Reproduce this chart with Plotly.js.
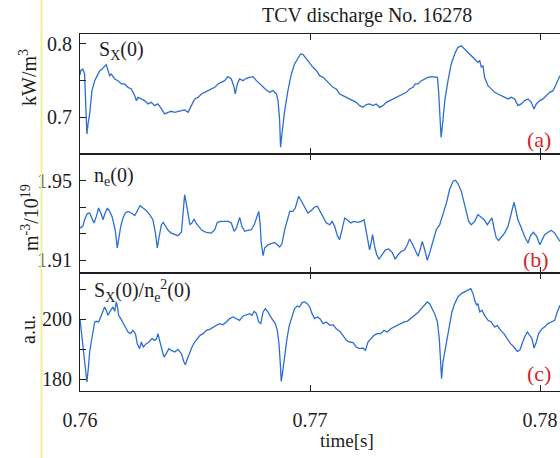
<!DOCTYPE html>
<html>
<head>
<meta charset="utf-8">
<script src="https://cdn.plot.ly/plotly-3.0.1.min.js"></script>
<style>
  html, body { margin: 0; padding: 0; background: #fff; overflow: hidden; }
  #chart { width: 600px; height: 458px; }
</style>
</head>
<body>
<div id="chart"></div>
<script>
// TCV discharge No. 16278: central soft X-ray emissivity, central density and their ratio

// (a) S_X(0) [kW/m^3]
const timeSx = [0.76000,0.76003,0.76012,0.76020,0.76026,0.76030,0.76035,0.76042,0.76052,0.76064,0.76075,0.76086,0.76096,0.76107,0.76114,0.76122,0.76129,0.76136,0.76151,0.76165,0.76180,0.76194,0.76209,0.76223,0.76238,0.76245,0.76252,0.76267,0.76281,0.76296,0.76310,0.76325,0.76339,0.76354,0.76368,0.76383,0.76397,0.76412,0.76426,0.76441,0.76455,0.76470,0.76484,0.76499,0.76513,0.76528,0.76542,0.76557,0.76571,0.76586,0.76600,0.76614,0.76629,0.76643,0.76658,0.76670,0.76675,0.76684,0.76694,0.76709,0.76723,0.76738,0.76752,0.76767,0.76781,0.76796,0.76810,0.76825,0.76839,0.76854,0.76861,0.76868,0.76872,0.76878,0.76890,0.76904,0.76919,0.76933,0.76948,0.76959,0.76970,0.76984,0.76999,0.77013,0.77028,0.77042,0.77057,0.77071,0.77086,0.77100,0.77114,0.77129,0.77143,0.77158,0.77172,0.77187,0.77201,0.77216,0.77230,0.77245,0.77259,0.77274,0.77288,0.77303,0.77317,0.77332,0.77346,0.77361,0.77375,0.77390,0.77404,0.77419,0.77433,0.77448,0.77458,0.77470,0.77484,0.77499,0.77513,0.77528,0.77542,0.77554,0.77559,0.77565,0.77570,0.77575,0.77586,0.77600,0.77614,0.77629,0.77643,0.77658,0.77672,0.77687,0.77701,0.77716,0.77730,0.77738,0.77745,0.77752,0.77759,0.77774,0.77788,0.77803,0.77817,0.77832,0.77846,0.77861,0.77875,0.77890,0.77904,0.77919,0.77933,0.77948,0.77962,0.77974,0.77984,0.77999,0.78013,0.78028,0.78042,0.78057,0.78071,0.78087];
const sxValues = [0.7578,0.7637,0.7660,0.7592,0.7093,0.6776,0.6912,0.7048,0.7365,0.7501,0.7569,0.7637,0.7660,0.7705,0.7719,0.7637,0.7569,0.7592,0.7524,0.7501,0.7456,0.7456,0.7410,0.7388,0.7297,0.7229,0.7274,0.7252,0.7229,0.7184,0.7206,0.7161,0.7184,0.7116,0.7048,0.7070,0.7084,0.7070,0.7084,0.7093,0.7102,0.7070,0.7161,0.7252,0.7274,0.7320,0.7342,0.7365,0.7388,0.7410,0.7456,0.7478,0.7501,0.7556,0.7524,0.7410,0.7320,0.7456,0.7524,0.7501,0.7533,0.7546,0.7556,0.7501,0.7456,0.7410,0.7374,0.7342,0.7365,0.7320,0.7229,0.6957,0.6594,0.6776,0.7093,0.7365,0.7592,0.7728,0.7810,0.7864,0.7855,0.7796,0.7728,0.7683,0.7637,0.7569,0.7546,0.7501,0.7456,0.7410,0.7388,0.7320,0.7297,0.7274,0.7252,0.7229,0.7206,0.7161,0.7138,0.7175,0.7184,0.7161,0.7184,0.7138,0.7161,0.7206,0.7229,0.7252,0.7274,0.7297,0.7320,0.7342,0.7388,0.7410,0.7456,0.7456,0.7501,0.7524,0.7546,0.7556,0.7546,0.7546,0.7365,0.7002,0.6730,0.6866,0.7229,0.7501,0.7728,0.7864,0.7955,0.7977,0.7932,0.7887,0.7841,0.7796,0.7751,0.7773,0.7683,0.7705,0.7546,0.7433,0.7388,0.7342,0.7320,0.7297,0.7274,0.7252,0.7274,0.7252,0.7161,0.7184,0.7229,0.7252,0.7206,0.7116,0.7184,0.7229,0.7252,0.7297,0.7342,0.7365,0.7456,0.7569];

// (b) n_e(0) [10^19 m^-3]
const timeNe = [0.76000,0.76012,0.76020,0.76032,0.76042,0.76052,0.76061,0.76071,0.76081,0.76093,0.76100,0.76107,0.76119,0.76129,0.76139,0.76148,0.76155,0.76162,0.76168,0.76177,0.76187,0.76197,0.76209,0.76223,0.76238,0.76249,0.76261,0.76274,0.76288,0.76303,0.76317,0.76328,0.76336,0.76343,0.76354,0.76362,0.76371,0.76383,0.76397,0.76412,0.76426,0.76441,0.76449,0.76455,0.76462,0.76470,0.76478,0.76487,0.76496,0.76504,0.76516,0.76530,0.76549,0.76571,0.76586,0.76597,0.76612,0.76629,0.76646,0.76658,0.76670,0.76680,0.76687,0.76694,0.76704,0.76716,0.76730,0.76745,0.76759,0.76771,0.76777,0.76783,0.76788,0.76796,0.76803,0.76817,0.76832,0.76846,0.76858,0.76868,0.76878,0.76890,0.76904,0.76912,0.76926,0.76936,0.76951,0.76962,0.76974,0.76991,0.77006,0.77020,0.77032,0.77043,0.77057,0.77071,0.77086,0.77096,0.77107,0.77119,0.77129,0.77139,0.77151,0.77162,0.77177,0.77191,0.77209,0.77223,0.77235,0.77243,0.77252,0.77259,0.77267,0.77272,0.77281,0.77290,0.77300,0.77313,0.77328,0.77342,0.77357,0.77371,0.77383,0.77397,0.77412,0.77423,0.77433,0.77443,0.77455,0.77470,0.77481,0.77488,0.77499,0.77510,0.77520,0.77535,0.77549,0.77564,0.77578,0.77593,0.77607,0.77622,0.77632,0.77643,0.77658,0.77670,0.77680,0.77690,0.77701,0.77716,0.77730,0.77745,0.77757,0.77771,0.77783,0.77791,0.77800,0.77810,0.77820,0.77832,0.77846,0.77861,0.77875,0.77887,0.77893,0.77904,0.77919,0.77933,0.77948,0.77959,0.77971,0.77986,0.77999,0.78009,0.78020,0.78035,0.78049,0.78064,0.78078,0.78087];
const neValues = [1.9261,1.9270,1.9303,1.9334,1.9337,1.9312,1.9287,1.9320,1.9362,1.9329,1.9303,1.9329,1.9362,1.9345,1.9320,1.9278,1.9236,1.9161,1.9203,1.9270,1.9312,1.9337,1.9345,1.9337,1.9324,1.9345,1.9374,1.9362,1.9350,1.9329,1.9303,1.9236,1.9161,1.9211,1.9278,1.9290,1.9270,1.9250,1.9236,1.9228,1.9223,1.9240,1.9329,1.9429,1.9387,1.9320,1.9278,1.9287,1.9307,1.9287,1.9270,1.9250,1.9240,1.9236,1.9253,1.9290,1.9295,1.9295,1.9295,1.9287,1.9245,1.9261,1.9287,1.9315,1.9270,1.9245,1.9250,1.9253,1.9283,1.9329,1.9345,1.9287,1.9186,1.9122,1.9161,1.9177,1.9182,1.9189,1.9177,1.9166,1.9182,1.9253,1.9312,1.9345,1.9345,1.9362,1.9421,1.9396,1.9371,1.9337,1.9350,1.9367,1.9371,1.9345,1.9320,1.9287,1.9278,1.9295,1.9270,1.9223,1.9203,1.9253,1.9312,1.9303,1.9287,1.9295,1.9290,1.9295,1.9303,1.9253,1.9203,1.9152,1.9194,1.9228,1.9169,1.9127,1.9105,1.9127,1.9152,1.9156,1.9139,1.9105,1.9127,1.9144,1.9152,1.9177,1.9206,1.9186,1.9152,1.9119,1.9161,1.9194,1.9152,1.9099,1.9135,1.9194,1.9253,1.9278,1.9329,1.9387,1.9455,1.9497,1.9502,1.9485,1.9446,1.9387,1.9329,1.9295,1.9278,1.9295,1.9329,1.9312,1.9303,1.9278,1.9295,1.9312,1.9261,1.9211,1.9199,1.9219,1.9236,1.9270,1.9337,1.9391,1.9362,1.9303,1.9261,1.9219,1.9186,1.9223,1.9240,1.9219,1.9177,1.9199,1.9228,1.9240,1.9250,1.9236,1.9211,1.9194];

// (c) S_X(0)/n_e^2(0) [a.u.]
const timeRatio = [0.76000,0.76009,0.76017,0.76025,0.76030,0.76036,0.76042,0.76049,0.76057,0.76064,0.76071,0.76081,0.76090,0.76099,0.76107,0.76114,0.76122,0.76129,0.76136,0.76143,0.76151,0.76158,0.76162,0.76168,0.76177,0.76187,0.76197,0.76209,0.76220,0.76230,0.76241,0.76249,0.76259,0.76267,0.76275,0.76288,0.76300,0.76313,0.76325,0.76333,0.76339,0.76346,0.76357,0.76365,0.76375,0.76386,0.76397,0.76412,0.76426,0.76441,0.76452,0.76458,0.76467,0.76477,0.76487,0.76499,0.76510,0.76522,0.76535,0.76549,0.76564,0.76578,0.76593,0.76607,0.76622,0.76636,0.76651,0.76665,0.76680,0.76694,0.76709,0.76723,0.76738,0.76748,0.76757,0.76767,0.76777,0.76786,0.76796,0.76806,0.76817,0.76829,0.76839,0.76849,0.76858,0.76865,0.76871,0.76875,0.76881,0.76890,0.76900,0.76910,0.76922,0.76933,0.76945,0.76955,0.76965,0.76977,0.76988,0.76999,0.77009,0.77020,0.77032,0.77043,0.77057,0.77071,0.77086,0.77100,0.77114,0.77129,0.77143,0.77158,0.77172,0.77187,0.77201,0.77216,0.77230,0.77241,0.77252,0.77264,0.77278,0.77293,0.77307,0.77322,0.77336,0.77351,0.77365,0.77380,0.77394,0.77409,0.77423,0.77438,0.77452,0.77464,0.77472,0.77484,0.77499,0.77510,0.77520,0.77530,0.77542,0.77554,0.77562,0.77568,0.77572,0.77578,0.77586,0.77597,0.77607,0.77617,0.77629,0.77643,0.77658,0.77672,0.77687,0.77699,0.77709,0.77716,0.77725,0.77730,0.77738,0.77748,0.77759,0.77774,0.77788,0.77803,0.77814,0.77829,0.77843,0.77858,0.77872,0.77887,0.77901,0.77912,0.77922,0.77933,0.77945,0.77957,0.77965,0.77974,0.77984,0.77994,0.78009,0.78020,0.78035,0.78049,0.78064,0.78075,0.78087];
const ratioValues = [200.00,193.52,186.82,182.35,179.00,183.46,189.05,192.40,196.87,199.11,199.33,199.11,200.78,202.68,204.13,203.02,201.34,202.46,203.58,204.13,202.68,205.81,204.69,201.34,200.22,198.55,197.43,195.75,195.20,196.31,195.20,191.84,190.17,192.40,190.73,191.84,192.40,193.52,192.96,193.52,195.20,192.96,189.61,187.37,188.49,190.17,189.61,189.05,189.94,188.49,185.70,184.80,186.82,189.05,190.73,192.40,193.52,194.64,195.20,196.31,196.65,197.43,197.99,198.55,198.21,199.11,200.22,200.78,200.22,199.66,201.12,201.56,201.90,201.34,202.68,201.90,199.11,198.55,202.46,203.58,202.46,200.78,199.66,198.55,196.31,191.84,185.14,179.22,182.35,187.93,193.52,197.99,200.78,203.58,204.47,204.13,205.59,205.81,205.25,204.13,201.90,200.22,200.78,200.22,198.55,199.11,197.99,198.21,196.87,195.98,194.64,192.96,192.40,192.18,190.73,190.17,190.39,189.61,192.40,193.52,194.64,195.20,195.20,196.31,195.75,196.87,197.43,197.99,198.55,199.11,199.33,200.22,201.34,201.90,202.46,203.58,204.69,205.81,205.25,203.80,201.90,199.11,193.52,185.70,180.11,185.70,189.05,193.52,197.99,202.46,205.25,207.49,208.60,209.16,209.72,210.28,208.60,206.37,204.69,205.25,202.46,203.02,201.34,199.66,199.11,197.43,197.99,196.31,195.20,193.52,191.84,190.73,189.27,189.61,191.84,194.08,195.75,194.64,193.52,190.39,192.40,195.20,196.87,197.43,198.55,199.11,199.66,202.46,204.69];

// axis ticks
const timeTicks = [0.76, 0.77, 0.78];
const timeTickText = ['0.76', '0.77', '0.78'];
const sxTicks = [0.7, 0.75, 0.8];
const sxTickText = ['0.7', '', '0.8'];
const neTicks = [1.91, 1.92333, 1.93667, 1.95];
const neTickText = ['1.91', '', '', '1.95'];
const ratioTicks = [180, 190, 200, 210];
const ratioTickText = ['180', '', '200', ''];

const serif = "'Liberation Serif', 'Times New Roman', serif";
const ink = '#1e1e1e';
const lineBlue = '#2c6ed2';
const labelRed = '#d8242a';

function trace(x, y, xa, ya) {
  return {
    x: x, y: y, xaxis: xa, yaxis: ya,
    type: 'scatter', mode: 'lines',
    line: { color: lineBlue, width: 1.3 },
    hoverinfo: 'skip', showlegend: false
  };
}

const data = [
  trace(timeSx, sxValues, 'x', 'y'),
  trace(timeNe, neValues, 'x2', 'y2'),
  trace(timeRatio, ratioValues, 'x3', 'y3')
];

const tickFont = { family: serif, size: 20, color: ink };
const xRange = [0.76, 0.782];

function xAxis(anchor, showLabels) {
  return {
    anchor: anchor, range: xRange, matches: anchor === 'y3' ? undefined : 'x3',
    tickmode: 'array', tickvals: timeTicks, ticktext: timeTickText,
    showticklabels: showLabels, ticks: 'inside', ticklen: 6, tickwidth: 1, tickcolor: ink,
    showline: true, linecolor: ink, linewidth: 1, mirror: 'ticks',
    showgrid: false, zeroline: false, tickfont: tickFont, ticklabelstandoff: 11
  };
}

function yAxis(anchor, domain, range, vals, text) {
  return {
    anchor: anchor, domain: domain, range: range,
    tickmode: 'array', tickvals: vals, ticktext: text,
    ticks: 'inside', ticklen: 6, tickwidth: 1, tickcolor: ink,
    showline: true, linecolor: ink, linewidth: 1, mirror: 'ticks',
    showgrid: false, zeroline: false, tickfont: tickFont, ticklabelstandoff: 3
  };
}

function ann(text, x, y, xanchor, opts) {
  return Object.assign({
    text: text, xref: 'paper', yref: 'paper', x: x, y: y,
    xanchor: xanchor, yanchor: 'middle', showarrow: false,
    font: { family: serif, size: 20, color: ink }
  }, opts || {});
}

const layout = {
  width: 600, height: 458,
  margin: { l: 80, r: 14, t: 34, b: 67 },
  paper_bgcolor: '#ffffff', plot_bgcolor: '#ffffff',
  font: { family: serif, color: ink },
  title: {
    text: 'TCV discharge No. 16278',
    font: { family: serif, size: 20, color: ink },
    x: 0.612, xref: 'container', xanchor: 'center',
    y: 1 - 15 / 458, yref: 'container', yanchor: 'middle'
  },
  xaxis: xAxis('y', false),
  xaxis2: xAxis('y2', false),
  xaxis3: xAxis('y3', true),
  yaxis: yAxis('x', [0.6639, 1], [0.6503, 0.8136], sxTicks, sxTickText),
  yaxis2: yAxis('x2', [0.3305, 0.6639], [1.9035, 1.9634], neTicks, neTickText),
  yaxis3: yAxis('x3', [0, 0.3305], [176.0, 215.5], ratioTicks, ratioTickText),
  shapes: [{
    type: 'line', xref: 'paper', yref: 'paper',
    x0: -0.0761, x1: -0.0761, y0: -0.19, y1: 1.1,
    line: { color: '#f4ef9c', width: 2 }
  }],
  annotations: [
    ann('S<sub>X</sub>(0)', 0.0336, 0.9524, 'left'),
    ann('n<sub>e</sub>(0)', 0.0237, 0.6022, 'left'),
    ann('S<sub>X</sub>(0)/n<sub>e</sub><sup>2</sup>(0)', 0.0237, 0.2801, 'left'),
    ann('(a)', 0.9348, 0.7031, 'right', { font: { family: serif, size: 22, color: labelRed } }),
    ann('(b)', 0.9308, 0.3697, 'right', { font: { family: serif, size: 22, color: labelRed } }),
    ann('(c)', 0.9348, 0.0504, 'right', { font: { family: serif, size: 22, color: labelRed } }),
    ann('time[s]', 0.5277, -0.1373, 'center', { font: { family: serif, size: 19, color: ink } }),
    ann('kW/m<sup>3</sup>', -0.1028, 0.8796, 'center', { textangle: -90 }),
    ann('m<sup>-3</sup>/10<sup>19</sup>', -0.0988, 0.4846, 'center', { textangle: -90 }),
    ann('a.u.', -0.1028, 0.1737, 'center', { textangle: -90 })
  ]
};

Plotly.newPlot('chart', data, layout, { staticPlot: true, displayModeBar: false });
</script>
</body>
</html>
